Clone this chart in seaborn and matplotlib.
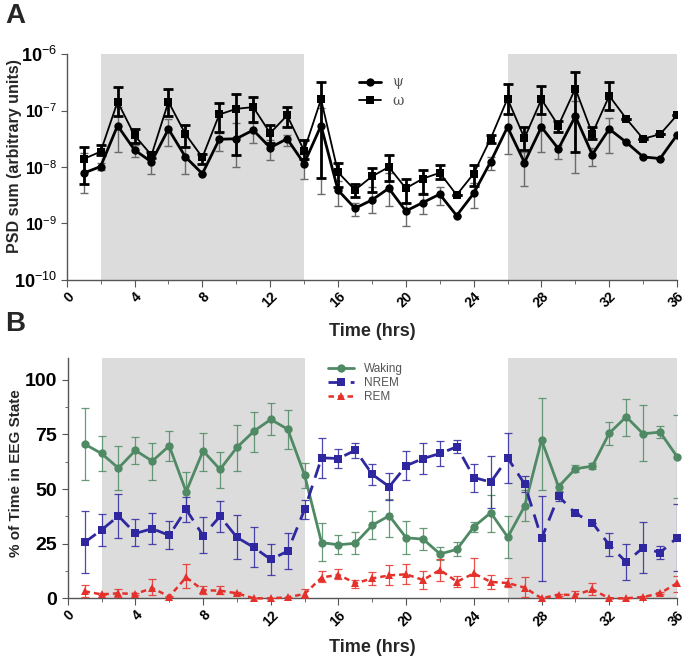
import numpy as np
import pandas as pd
import matplotlib
matplotlib.use("Agg")
import matplotlib.pyplot as plt
import matplotlib.transforms as mtransforms
import seaborn as sns
from matplotlib.ticker import FixedLocator, NullFormatter

sns.set_style("ticks")
plt.rcParams['font.family'] = ['Liberation Sans', 'DejaVu Sans']
plt.rcParams['mathtext.fontset'] = 'custom'
plt.rcParams['mathtext.rm'] = 'Liberation Sans'
plt.rcParams['mathtext.bf'] = 'Liberation Sans:bold'

hours = list(range(1, 37))

# ---------------- Panel A data ----------------
psi = [7.8e-9, 1.02e-8, 5.4e-8, 2.0e-8, 1.23e-8, 4.7e-8, 1.51e-8, 7.6e-9, 3.1e-8, 3.16e-8,
       4.5e-8, 2.2e-8, 3.16e-8, 1.15e-8, 5.4e-8, 3.9e-9, 1.86e-9, 2.6e-9, 4.2e-9, 1.66e-9,
       2.34e-9, 3.3e-9, 1.38e-9, 3.4e-9, 1.23e-8, 5.1e-8, 1.2e-8, 5.1e-8, 2.1e-8, 7.9e-8,
       1.66e-8, 4.7e-8, 2.75e-8, 1.51e-8, 1.41e-8, 3.7e-8]
psi_hi = [1.78e-8, 1.17e-8, 1.17e-7, 2.45e-8, 1.7e-8, 7.1e-8, 2.24e-8, None, 4.0e-8, 6.0e-8,
          6.0e-8, 3.0e-8, 3.7e-8, 1.32e-8, 1.12e-7, 5.6e-9, 2.3e-9, 4.5e-9, 7.8e-9, 2.3e-9,
          3.5e-9, 4.5e-9, None, 5.2e-9, 1.51e-8, 8.7e-8, 1.86e-8, 8.5e-8, 2.5e-8, 1.45e-7,
          2.2e-8, 7.4e-8, None, None, None, None]
psi_lo = [3.4e-9, 8.7e-9, 1.86e-8, 1.48e-8, 7.6e-9, 2.34e-8, 7.6e-9, None, 1.95e-8, 1.0e-8,
          2.63e-8, 1.32e-8, 2.4e-8, 6.2e-9, 3.3e-9, 2.0e-9, 1.38e-9, 1.55e-9, 2.0e-9, 8.9e-10,
          1.45e-9, 2.1e-9, None, 1.86e-9, 8.9e-9, 1.7e-8, 4.7e-9, 1.86e-8, 1.41e-8, 7.8e-9,
          1.05e-8, 1.78e-8, None, None, None, None]

omega = [1.39e-8, 1.87e-8, 1.43e-7, 3.63e-8, 1.62e-8, 1.43e-7, 3.84e-8, 1.48e-8, 8.5e-8, 1.07e-7,
         1.15e-7, 3.98e-8, 8.2e-8, 1.95e-8, 1.58e-7, 8.1e-9, 3.9e-9, 6.8e-9, 1.0e-8, 4.2e-9,
         6.2e-9, 7.9e-9, 3.2e-9, 7.6e-9, 3.16e-8, 1.62e-7, 3.24e-8, 1.58e-7, 5.4e-8, 2.45e-7,
         3.9e-8, 1.82e-7, 7.2e-8, 3.16e-8, 3.8e-8, 8.3e-8]
omega_hi = [2.23e-8, 2.42e-8, 2.57e-7, 4.8e-8, 1.82e-8, 2.45e-7, 5.5e-8, 1.7e-8, 1.35e-7, 2.0e-7,
            1.76e-7, 5.6e-8, 1.15e-7, 2.95e-8, 3.16e-7, 1.2e-8, 5.0e-9, 9.5e-9, 1.66e-8, 6.2e-9,
            8.9e-9, 1.07e-8, None, 1.07e-8, 3.7e-8, 2.95e-7, 5.1e-8, 2.75e-7, 6.5e-8, 4.8e-7,
            5.1e-8, 3.16e-7, None, None, None, None]
omega_lo = [5.1e-9, 1.61e-8, 7.9e-8, 2.7e-8, 1.45e-8, 8.1e-8, 2.24e-8, 1.15e-8, 4.1e-8, 1.66e-8,
            6.2e-8, 2.63e-8, 5.1e-8, 1.38e-8, 6.5e-9, 4.5e-9, 3.0e-9, 3.6e-9, 5.6e-9, 2.3e-9,
            3.3e-9, 6.2e-9, None, 4.6e-9, 2.63e-8, 8.7e-8, 2.0e-8, 8.7e-8, 4.1e-8, 1.86e-8,
            3.16e-8, 1.02e-7, None, None, None, None]

# ---------------- Panel B data ----------------
waking = [70.6, 66.3, 59.6, 67.7, 62.8, 69.8, 48.8, 67.5, 59.0, 69.1, 76.5, 81.9, 77.4, 56.4,
          25.5, 24.5, 25.2, 33.5, 37.8, 27.7, 27.1, 20.3, 22.4, 32.8, 39.2, 28.0, 42.2, 72.4,
          51.1, 59.3, 60.5, 75.6, 83.1, 75.3, 76.1, 64.9]
waking_hi = [87.2, 74.1, 69.7, 73.8, 71.2, 76.8, 57.9, 75.9, 66.8, 79.4, 85.5, 89.2, 86.4, 62.0,
             34.3, 28.8, 30.2, 39.8, 45.4, 35.2, 32.3, 23.3, 25.6, 34.8, 47.3, 37.7, 49.5, 91.8,
             53.0, 61.0, 62.0, 80.9, 91.3, 88.3, 78.7, 84.1]
waking_lo = [54.1, 58.5, 49.5, 61.3, 54.3, 62.7, 40.0, 58.1, 50.3, 58.4, 67.2, 74.7, 68.4, 50.5,
             16.9, 20.4, 20.1, 27.0, 28.2, 20.4, 22.0, 17.5, 19.5, 30.5, 30.3, 18.3, 35.4, 49.5,
             49.0, 57.6, 59.0, 70.1, 74.1, 62.7, 73.5, 45.7]

nrem = [25.6, 31.3, 37.7, 29.7, 31.9, 28.8, 40.7, 28.7, 37.5, 27.9, 23.3, 17.8, 21.6, 40.7,
        64.3, 64.0, 67.8, 56.7, 51.1, 60.7, 64.0, 66.3, 69.4, 55.3, 53.2, 64.2, 52.3, 27.4,
        46.8, 38.9, 34.6, 24.4, 16.6, 23.2, 20.9, 27.7]
nrem_hi = [39.8, 38.4, 47.7, 36.1, 39.2, 35.2, 46.5, 37.3, 44.7, 38.0, 32.8, 24.8, 29.7, 45.0,
           73.6, 68.3, 71.3, 61.7, 57.2, 67.4, 71.2, 72.0, 72.4, 61.6, 65.1, 75.9, 55.9, 46.8,
           48.8, 38.9, 34.6, 29.7, 25.0, 34.9, 23.9, 43.3]
nrem_lo = [11.6, 24.1, 27.4, 23.8, 24.7, 22.4, 35.1, 20.6, 30.2, 18.0, 14.2, 10.7, 13.4, 36.3,
           54.9, 59.5, 64.3, 51.7, 45.0, 54.0, 56.9, 60.7, 66.3, 48.5, 41.3, 52.9, 48.8, 8.1,
           44.7, 38.9, 34.6, 19.2, 8.4, 11.4, 17.8, 12.5]

rem = [3.2, 1.8, 2.3, 2.0, 4.7, 0.8, 9.6, 3.7, 3.5, 2.3, 0.0, 0.0, 0.5, 2.0,
       9.5, 10.8, 6.9, 9.1, 10.5, 11.0, 8.4, 13.0, 7.6, 11.4, 7.5, 7.0, 4.9, 0.0,
       1.7, 1.5, 4.1, 0.0, 0.0, 0.6, 2.3, 6.9]
rem_hi = [5.9, 2.3, 4.1, 2.4, 9.0, 1.2, 15.5, 5.6, 5.6, 2.8, 0.0, 0.0, 0.8, 4.1,
          12.3, 13.4, 8.4, 12.2, 15.4, 15.5, 12.5, 18.0, 10.0, 18.6, 10.7, 9.1, 9.9, 0.0,
          2.2, 3.5, 7.0, 0.0, 0.0, 1.0, 2.8, 10.4]
rem_lo = [0.8, 1.3, 0.5, 1.6, 1.4, 0.4, 4.6, 2.0, 1.8, 1.8, 0.0, 0.0, 0.2, 0.0,
          7.6, 8.7, 4.9, 6.1, 5.9, 6.4, 4.4, 7.8, 5.3, 5.3, 4.4, 5.0, 0.5, 0.0,
          1.2, 0.0, 1.5, 0.0, 0.0, 0.2, 1.8, 3.0]

dark_periods = [(2, 14), (26, 36)]
x_major = [0, 4, 8, 12, 16, 20, 24, 28, 32, 36]
x_minor = list(range(0, 37, 2))
a_yticks = [1e-10, 1e-9, 1e-8, 1e-7, 1e-6]
a_ylabels = ['-10', '-9', '-8', '-7', '-6']
b_yticks = [0, 25, 50, 75, 100]

shade = '#dcdcdc'
spine_c = '#555555'


def err_arrays(center, hi, lo):
    c = np.array(center, dtype=float)
    h = np.array([v if v is not None else cv for v, cv in zip(hi, c)], dtype=float)
    l = np.array([v if v is not None else cv for v, cv in zip(lo, c)], dtype=float)
    return np.vstack([c - l, h - c])


def style_axes(fig, ax, xlabelpad):
    for s in ['top', 'right']:
        ax.spines[s].set_visible(False)
    for s in ['left', 'bottom']:
        ax.spines[s].set_color(spine_c)
        ax.spines[s].set_linewidth(1.0)
    ax.set_xlim(0, 36)
    ax.xaxis.set_major_locator(FixedLocator(x_major))
    ax.xaxis.set_minor_locator(FixedLocator(x_minor))
    ax.set_xticklabels([str(v) for v in x_major], rotation=45, ha='right', va='top',
                       rotation_mode='anchor', fontsize=10, fontweight='bold')
    offset = mtransforms.ScaledTranslation(1 / 100, -2 / 100, fig.dpi_scale_trans)
    for lab in ax.get_xticklabels():
        lab.set_transform(lab.get_transform() + offset)
    ax.tick_params(axis='both', which='both', colors=spine_c, labelcolor='black')
    ax.tick_params(axis='x', which='major', length=5, pad=2)
    ax.tick_params(axis='x', which='minor', length=3)
    ax.set_xlabel('Time (hrs)', fontsize=13, fontweight='bold', labelpad=xlabelpad)
    for a, b in dark_periods:
        ax.axvspan(a, b, color=shade, lw=0, zorder=0)


fig = plt.figure(figsize=(6.85, 6.58), dpi=100)
axA = fig.add_axes([0.0974, 0.5745, 0.891, 0.3434])
axB = fig.add_axes([0.0988, 0.0907, 0.8895, 0.3652])

# ---------------- Panel A ----------------
dfA = pd.DataFrame({'hour': hours, 'psi': psi, 'omega': omega})
axA.set_yscale('log')
axA.errorbar(hours, psi, yerr=err_arrays(psi, psi_hi, psi_lo), fmt='none',
             ecolor='#6b6b6b', elinewidth=1.0, capsize=3, capthick=1.0, zorder=3)
axA.errorbar(hours, omega, yerr=err_arrays(omega, omega_hi, omega_lo), fmt='none',
             ecolor='black', elinewidth=2.0, capsize=3.5, capthick=2.0, zorder=3)
sns.lineplot(data=dfA, x='hour', y='psi', ax=axA, color='black', lw=2.0, marker='o',
             markersize=6, markeredgewidth=0, label='ψ', zorder=4)
sns.lineplot(data=dfA, x='hour', y='omega', ax=axA, color='black', lw=1.3, marker='s',
             markersize=6, markeredgewidth=0, label='ω', zorder=4)
style_axes(fig, axA, 9)
axA.set_ylim(1e-10, 1e-6)
axA.yaxis.set_major_locator(FixedLocator(a_yticks))
axA.yaxis.set_minor_formatter(NullFormatter())
axA.yaxis.set_minor_locator(FixedLocator([]))
axA.set_yticklabels([r'$\mathbf{10}^{%s}$' % s for s in a_ylabels])
for lab, s in zip(axA.get_yticklabels(), a_ylabels):
    lab.set_fontsize(13 if s in ('-6', '-10') else 11.5)
axA.tick_params(axis='y', which='major', length=4, pad=3)
axA.set_ylabel('PSD sum (arbitrary units)', fontsize=11.5, fontweight='bold')
axA.yaxis.set_label_coords(-0.074, 0.55)
legA = axA.legend(loc='upper left', bbox_to_anchor=(0.47, 0.93), frameon=False,
                  handlelength=1.6, labelspacing=0.3, borderaxespad=0,
                  prop={'family': 'DejaVu Serif', 'size': 10})
for t in legA.get_texts():
    t.set_color('#555555')
axA.text(-0.101, 1.225, 'A', transform=axA.transAxes, fontsize=20, fontweight='bold',
         va='top', ha='left')

# ---------------- Panel B ----------------
dfB = pd.DataFrame({'hour': hours, 'Waking': waking, 'NREM': nrem, 'REM': rem})
c_wake = '#4f8a64'
c_nrem = '#2f27a0'
c_rem = '#e4312b'
axB.errorbar(hours, waking, yerr=err_arrays(waking, waking_hi, waking_lo), fmt='none',
             ecolor=c_wake, elinewidth=0.9, capsize=3, capthick=0.9, zorder=3, alpha=0.85)
axB.errorbar(hours, nrem, yerr=err_arrays(nrem, nrem_hi, nrem_lo), fmt='none',
             ecolor=c_nrem, elinewidth=0.9, capsize=3, capthick=0.9, zorder=3, alpha=0.85)
axB.errorbar(hours, rem, yerr=err_arrays(rem, rem_hi, rem_lo), fmt='none',
             ecolor=c_rem, elinewidth=0.9, capsize=3, capthick=0.9, zorder=3, alpha=0.85)
sns.lineplot(data=dfB, x='hour', y='Waking', ax=axB, color=c_wake, lw=2.0, marker='o',
             markersize=6, markeredgewidth=0, label='Waking', zorder=4, clip_on=False)
sns.lineplot(data=dfB, x='hour', y='NREM', ax=axB, color=c_nrem, lw=2.0, marker='s',
             markersize=6, markeredgewidth=0, label='NREM', zorder=4, clip_on=False)
sns.lineplot(data=dfB, x='hour', y='REM', ax=axB, color=c_rem, lw=1.8, marker='^',
             markersize=6, markeredgewidth=0, label='REM', zorder=4, clip_on=False)
for ln in axB.get_lines():
    if ln.get_label() == 'NREM':
        ln.set_dashes([5, 3])
    elif ln.get_label() == 'REM':
        ln.set_dashes([2.2, 1.6])
style_axes(fig, axB, 7)
axB.set_ylim(0, 110)
axB.yaxis.set_major_locator(FixedLocator(b_yticks))
axB.yaxis.set_minor_locator(FixedLocator([12.5, 37.5, 62.5, 87.5]))
axB.set_yticklabels([str(v) for v in b_yticks], fontsize=14, fontweight='bold')
axB.tick_params(axis='y', which='major', length=4)
axB.tick_params(axis='y', which='minor', length=2.5)
axB.set_ylabel('% of Time in EEG State', fontsize=11, fontweight='bold')
axB.yaxis.set_label_coords(-0.073, 0.52)
legB = axB.legend(loc='upper left', bbox_to_anchor=(0.42, 1.0), frameon=False,
                  fontsize=8.5, handlelength=2.2, labelspacing=0.2, borderaxespad=0)
for h in legB.get_lines():
    if h.get_label() == 'NREM':
        h.set_dashes([5, 3])
    elif h.get_label() == 'REM':
        h.set_dashes([2.2, 1.6])
for t in legB.get_texts():
    t.set_color('#555555')
axB.text(-0.103, 1.195, 'B', transform=axB.transAxes, fontsize=20, fontweight='bold',
         va='top', ha='left')

fig.savefig('out.png', dpi=100)
